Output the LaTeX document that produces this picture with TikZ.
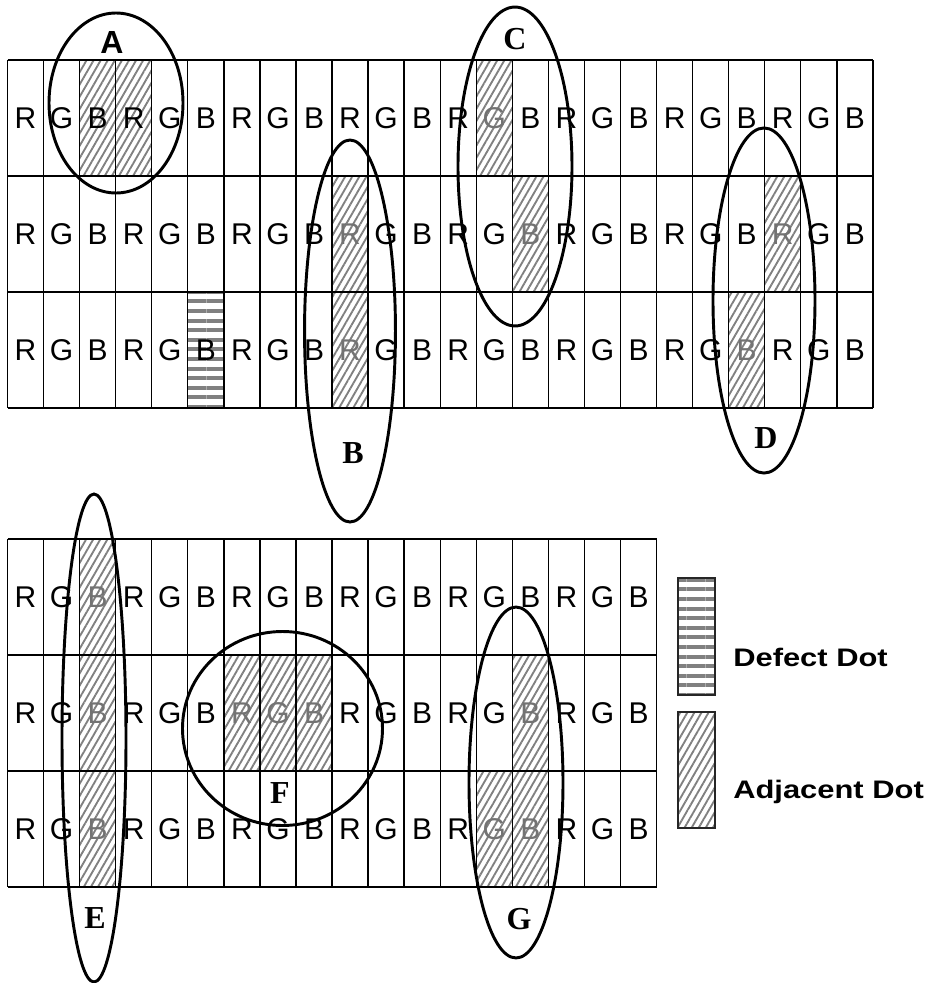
\documentclass[tikz,border=0pt]{standalone}
\usepackage{fontspec}
\setmainfont{Liberation Sans}
\newfontfamily\lblserif{Liberation Serif}
\usetikzlibrary{patterns.meta}
\tikzset{
  cellletter/.style={font=\fontsize{22.5}{22.5}\selectfont, inner sep=0pt, text=black},
  graytext/.style={text=black!55},
  hatchfill/.style={pattern={Lines[angle=60,distance=4.6pt,line width=1.4pt]}, pattern color=black!50},
  defectfill/.style={pattern={Lines[angle=0,distance=7.2pt,line width=3pt]}, pattern color=black!50},
  gridline/.style={line width=1pt, draw=black},
  ring/.style={line width=2.2pt, draw=black},
  ringlabel/.style={font=\lblserif\bfseries\fontsize{24}{24}\selectfont, inner sep=0pt},
  ringlabelsans/.style={font=\bfseries\fontsize{24}{24}\selectfont, inner sep=0pt},
  legendbox/.style={line width=1.1pt, draw=black!85},
  legendtext/.style={font=\bfseries\fontsize{19}{19}\selectfont, inner sep=0pt, anchor=base west},
  % gray letters inside hatched cells
  T1-14/.style={graytext}, T2-15/.style={graytext}, T2-10/.style={graytext},
  T3-10/.style={graytext}, T2-22/.style={graytext}, T3-21/.style={graytext},
  L1-3/.style={graytext}, L2-3/.style={graytext}, L3-3/.style={graytext},
  L2-7/.style={graytext}, L2-8/.style={graytext}, L2-9/.style={graytext},
  L2-15/.style={graytext}, L3-14/.style={graytext}, L3-15/.style={graytext},
}
\begin{document}
\begin{tikzpicture}[x=0.75pt,y=-0.75pt]
\useasboundingbox (0,0) rectangle (933,983);
\def\cw{36.06}
% ---------- hatched cells, top ----------
\foreach \r/\c in {1/3,1/4,1/14,2/15,2/10,3/10,2/22,3/21}{
  \fill[hatchfill] ({7.5+(\c-1)*\cw},{60+(\r-1)*116}) rectangle ({7.5+\c*\cw},{60+\r*116});
}
\foreach \r/\c in {3/6}{
  \fill[defectfill] ({7.5+(\c-1)*\cw},{60+(\r-1)*116}) rectangle ({7.5+\c*\cw},{60+\r*116});
}
% ---------- hatched cells, bottom ----------
\foreach \r/\c in {1/3,2/3,3/3,2/7,2/8,2/9,2/15,3/14,3/15}{
  \fill[hatchfill] ({7.5+(\c-1)*\cw},{539+(\r-1)*116}) rectangle ({7.5+\c*\cw},{539+\r*116});
}
% ---------- top grid letters ----------
\foreach \r in {1,2,3}{
  \foreach \c in {1,...,24}{
    \pgfmathtruncatemacro\k{mod(\c-1,3)}
    \node[cellletter, T\r-\c/.try] (t\r-\c) at ({7.5+(\c-0.5)*\cw},{60+(\r-0.5)*116})
      {\ifcase\k R\or G\or B\fi};
  }
}
% ---------- bottom grid letters ----------
\foreach \r in {1,2,3}{
  \foreach \c in {1,...,18}{
    \pgfmathtruncatemacro\k{mod(\c-1,3)}
    \node[cellletter, L\r-\c/.try] (b\r-\c) at ({7.5+(\c-0.5)*\cw},{539+(\r-0.5)*116})
      {\ifcase\k R\or G\or B\fi};
  }
}
% ---------- grid lines ----------
\foreach \c in {0,...,24}{ \draw[gridline] ({7.5+\c*\cw},60) -- ({7.5+\c*\cw},408); }
\foreach \r in {0,...,3}{ \draw[gridline] (7.5,{60+\r*116}) -- ({7.5+24*\cw},{60+\r*116}); }
\foreach \c in {0,...,18}{ \draw[gridline] ({7.5+\c*\cw},539) -- ({7.5+\c*\cw},887); }
\foreach \r in {0,...,3}{ \draw[gridline] (7.5,{539+\r*116}) -- ({7.5+18*\cw},{539+\r*116}); }
% ---------- rings ----------
\draw[ring] (116,103) ellipse [x radius=50.25pt, y radius=67.5pt];
\draw[ring] (350,331) ellipse [x radius=34.1pt, y radius=143.25pt];
\draw[ring] (515,166.5) ellipse [x radius=42.75pt, y radius=119.6pt];
\draw[ring] (764,300.5) ellipse [x radius=38.25pt, y radius=129.4pt];
\draw[ring] (94,738) ellipse [x radius=24pt, y radius=183pt];
\draw[ring] (282.5,728.5) ellipse [x radius=75pt, y radius=72.75pt];
\draw[ring] (516,782.5) ellipse [x radius=35.25pt, y radius=131.6pt];
% ---------- ring labels ----------
\node[ringlabelsans] (labA) at (112,42) {A};
\node[ringlabel] (labB) at (353,453) {B};
\node[ringlabel] (labC) at (515,39) {C};
\node[ringlabel] (labD) at (766,438) {D};
\node[ringlabel] (labE) at (95,918) {E};
\node[ringlabel] (labF) at (280,793) {F};
\node[ringlabel] (labG) at (519,919) {G};
% ---------- legend ----------
\draw[legendbox, defectfill] (678,578) rectangle (715,695);
\draw[legendbox, hatchfill] (678,712) rectangle (715,828);
\node[legendtext] (defect) at (733,666) {\scalebox{1.22}[1]{Defect Dot}};
\node[legendtext] (adjacent) at (733,798) {\scalebox{1.22}[1]{Adjacent Dot}};
\end{tikzpicture}
\end{document}
